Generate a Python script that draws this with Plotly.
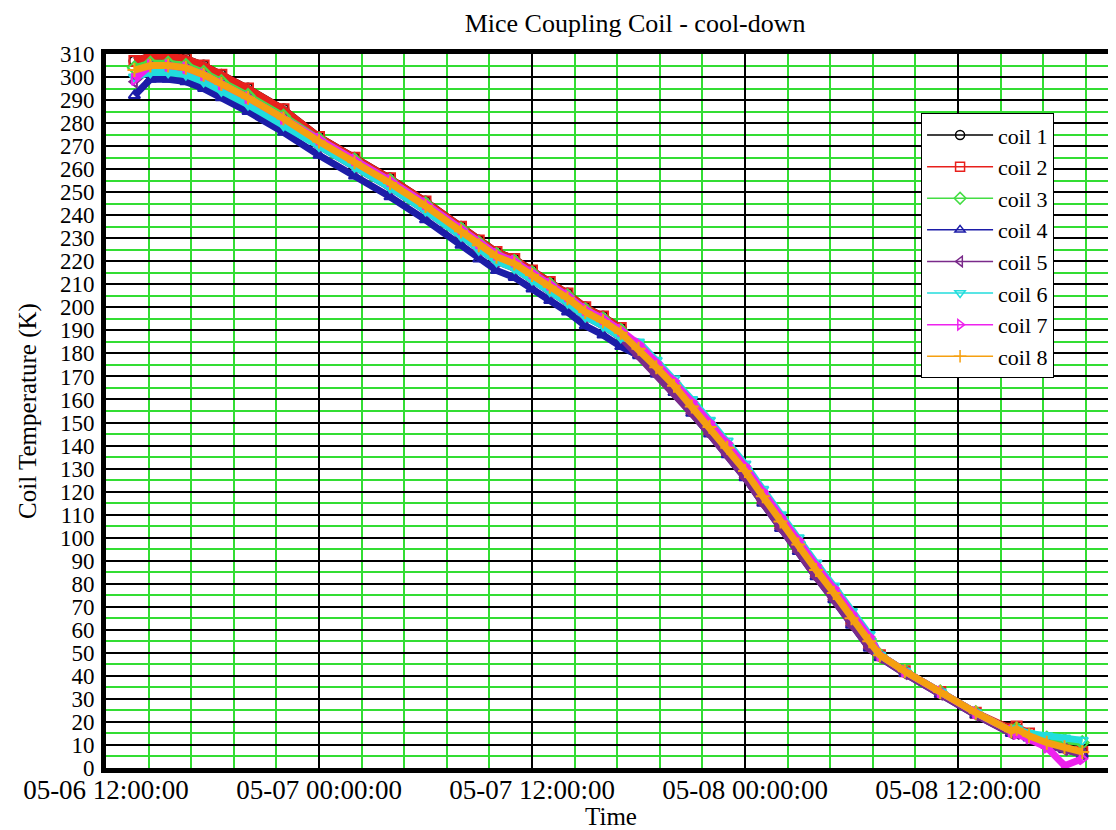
import plotly.graph_objects as go

times = ["2010-05-06 13:36", "2010-05-06 14:30", "2010-05-06 15:30", "2010-05-06 16:30",
         "2010-05-06 17:30", "2010-05-06 18:30", "2010-05-06 20:00", "2010-05-06 22:00",
         "2010-05-07 00:00", "2010-05-07 02:00", "2010-05-07 04:00", "2010-05-07 06:00",
         "2010-05-07 08:00", "2010-05-07 09:00", "2010-05-07 10:00", "2010-05-07 11:00",
         "2010-05-07 12:00", "2010-05-07 13:00", "2010-05-07 14:00", "2010-05-07 15:00",
         "2010-05-07 16:00", "2010-05-07 17:00", "2010-05-07 18:00", "2010-05-07 19:00",
         "2010-05-07 20:00", "2010-05-07 21:00", "2010-05-07 22:00", "2010-05-07 23:00",
         "2010-05-08 00:00", "2010-05-08 01:00", "2010-05-08 02:00", "2010-05-08 03:00",
         "2010-05-08 04:00", "2010-05-08 05:00", "2010-05-08 06:00", "2010-05-08 07:00",
         "2010-05-08 07:36", "2010-05-08 09:00", "2010-05-08 11:00", "2010-05-08 13:00",
         "2010-05-08 15:00", "2010-05-08 15:18", "2010-05-08 16:00", "2010-05-08 17:00",
         "2010-05-08 18:00", "2010-05-08 19:00"]

coil1 = [307, 309, 309, 308, 305, 301, 295, 286, 274, 265, 256, 246, 235, 229, 224, 221, 216, 211, 206, 200, 196, 191,
         180, 172, 164, 155, 146, 137, 127, 116, 105, 95, 84, 74, 63, 53, 49, 42, 33, 24, 16, 17, 14, 11, 9, 7]
coil2 = [307, 309, 309, 308, 305, 301, 295, 286, 274, 265, 256, 246, 235, 229, 224, 221, 216, 211, 206, 200, 196, 191,
         181, 173, 165, 156, 147, 138, 128, 117, 106, 96, 85, 75, 64, 54, 49, 42, 33, 24, 17, 18, 15, 11, 9, 7]
coil3 = [304, 306, 306, 305, 302, 298, 292, 283, 273, 264, 255, 245, 234, 228, 223, 220, 215, 210, 205, 199, 195, 190,
         183, 175, 167, 158, 149, 140, 130, 119, 108, 98, 87, 77, 66, 56, 49, 42, 33, 24, 16, 17, 14, 13, 12, 11]
coil4 = [292, 299, 299, 298, 295, 291, 285, 276, 266, 257, 248, 238, 227, 221, 216, 213, 208, 203, 198, 192, 188, 183,
         179, 171, 163, 154, 145, 136, 126, 115, 104, 94, 83, 73, 62, 52, 48, 41, 32, 23, 15, 16, 13, 10, 8, 6]
coil5 = [298, 304, 304, 303, 300, 296, 290, 281, 270, 261, 252, 242, 231, 225, 220, 217, 212, 207, 202, 196, 192, 187,
         179, 171, 163, 154, 145, 136, 126, 115, 104, 94, 83, 73, 62, 52, 48, 41, 32, 23, 15, 15, 13, 10, 8, 6]
coil6 = [300, 302, 302, 301, 298, 294, 288, 279, 270, 261, 252, 242, 231, 225, 220, 217, 212, 207, 202, 196, 192, 187,
         185, 177, 169, 160, 151, 142, 132, 121, 110, 100, 89, 79, 68, 58, 49, 42, 33, 24, 16, 17, 15, 14, 13, 12]
coil7 = [299, 305, 305, 304, 301, 297, 291, 282, 273, 264, 255, 245, 234, 228, 223, 220, 215, 210, 205, 199, 195, 190,
         184, 176, 168, 159, 150, 141, 131, 120, 109, 99, 88, 78, 67, 57, 49, 42, 33, 24, 16, 15, 13, 9, 1, 4]
coil8 = [303, 305, 305, 304, 301, 297, 291, 282, 272, 263, 254, 244, 233, 227, 222, 219, 214, 209, 204, 198, 194, 189,
         182, 174, 166, 157, 148, 139, 129, 118, 107, 97, 86, 76, 65, 55, 49, 42, 33, 24, 16, 17, 14, 11, 9, 7]

names = ["coil 1", "coil 2", "coil 3", "coil 4", "coil 5", "coil 6", "coil 7", "coil 8"]
series = [coil1, coil2, coil3, coil4, coil5, coil6, coil7, coil8]
colors = ["#000000", "#e8201c", "#44dd44", "#1c1ca8", "#7a2a8a", "#22dddd", "#ee22ee", "#f5a010"]
symbols = ["circle-open", "square-open", "diamond-open", "triangle-up-open",
           "triangle-left-open", "triangle-down-open", "triangle-right-open", "cross-thin-open"]

x_ticks = ["2010-05-06 12:00", "2010-05-07 00:00", "2010-05-07 12:00", "2010-05-08 00:00", "2010-05-08 12:00"]
x_ticklabels = ["05-06 12:00:00", "05-07 00:00:00", "05-07 12:00:00", "05-08 00:00:00", "05-08 12:00:00"]

FONT = "Liberation Serif"

fig = go.Figure()
# data traces (dense band look)
for name, vals, col, sym in zip(names, series, colors, symbols):
    fig.add_trace(go.Scatter(
        x=times, y=vals, name=name, mode="lines+markers", legendgroup=name, showlegend=False,
        line=dict(color=col, width=7),
        marker=dict(symbol=sym, size=10, color=col, line=dict(color=col, width=2)),
    ))
# legend entries (thin line with open marker, no data)
for name, col, sym in zip(names, colors, symbols):
    fig.add_trace(go.Scatter(
        x=[None], y=[None], name=name, mode="lines+markers", legendgroup=name, showlegend=True,
        line=dict(color=col, width=1.5),
        marker=dict(symbol=sym, size=9, color=col, line=dict(color=col, width=1.5)),
    ))

# the page body adds an 8px offset; the figure is sized to end at the window edge
fig.update_layout(
    width=1108, height=822,
    paper_bgcolor="white", plot_bgcolor="white",
    margin=dict(l=98, r=0, t=46, b=62),
    font=dict(family=FONT, size=24, color="black"),
    title=dict(text="Mice Coupling Coil - cool-down", x=0.566, xanchor="center",
               y=0.9815, yanchor="middle", font=dict(family=FONT, size=26, color="black")),
    showlegend=True,
    legend=dict(x=0.807, y=0.917, xanchor="left", yanchor="top",
                bgcolor="white", bordercolor="black", borderwidth=1,
                font=dict(family=FONT, size=22, color="black"),
                tracegroupgap=0, itemwidth=66),
)

fig.update_xaxes(
    type="date", automargin=False,
    range=["2010-05-06 12:00", "2010-05-08 20:54"],
    tickmode="array", tickvals=x_ticks, ticktext=x_ticklabels,
    tickfont=dict(family=FONT, size=27), ticklabelstandoff=-6,
    showgrid=True, gridcolor="black", gridwidth=1.5,
    minor=dict(dtick=8640000, tick0="2010-05-06 12:00", showgrid=True,
               gridcolor="#33dd33", gridwidth=1.5),
    showline=True, linecolor="black", linewidth=5, mirror=True,
    ticks="", zeroline=False,
    title=dict(text="Time", font=dict(family=FONT, size=25), standoff=0),
)
fig.update_yaxes(
    range=[0, 310], automargin=False,
    tickmode="linear", tick0=0, dtick=10,
    tickfont=dict(family=FONT, size=23), ticklabelstandoff=2,
    showgrid=True, gridcolor="black", gridwidth=1.5,
    minor=dict(dtick=5, tick0=0, showgrid=True, gridcolor="#33dd33", gridwidth=1.5),
    showline=True, linecolor="black", linewidth=5, mirror=False,
    ticks="", zeroline=False,
    title=dict(text="Coil Temperature (K)", font=dict(family=FONT, size=25), standoff=18),
)

fig.write_html("out.html")
